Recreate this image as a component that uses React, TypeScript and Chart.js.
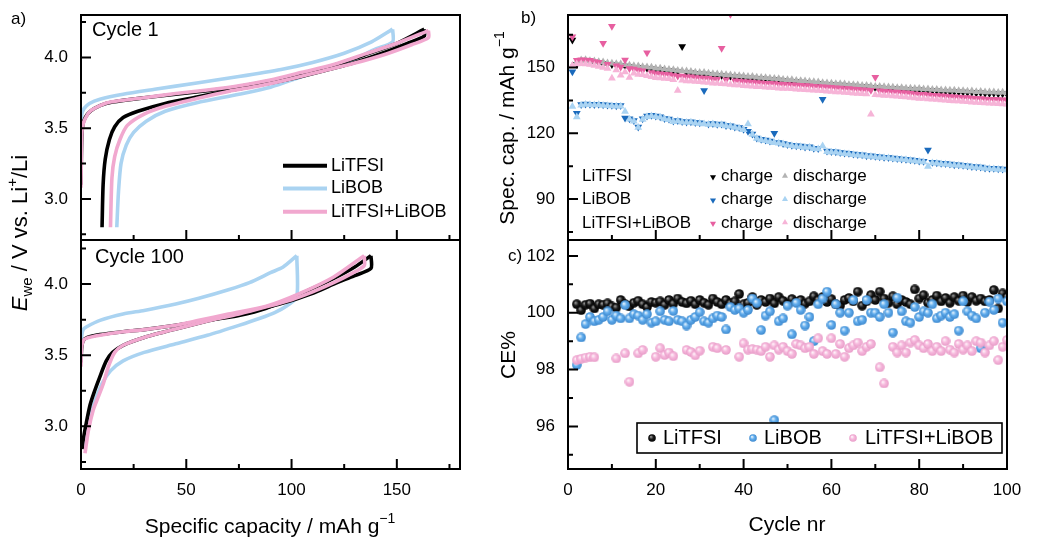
import React, { useEffect, useRef } from 'react';
import { Chart, registerables } from 'chart.js';

Chart.register(...registerables);

const W = 1040;
const H = 539;
const FONT = '"Liberation Sans", Arial, Helvetica, sans-serif';
const YW = 50;
const XH = 40;

// ---------- Panel a: voltage profiles, [specific capacity (mAh/g), E (V)] ----------
const c1LiTFSICharge = [[0, 3.1], [0.3, 3.4], [0.8, 3.52], [2, 3.575], [4.5, 3.62], [9, 3.66], [15, 3.685], [30, 3.715], [45, 3.74], [60, 3.765], [75, 3.795], [90, 3.835], [105, 3.885], [120, 3.945], [135, 4.02], [150, 4.1], [163, 4.2]];
const c1LiTFSIDischarge = [[163, 4.2], [163, 4.15], [155, 4.1], [143, 4.03], [130, 3.965], [115, 3.905], [100, 3.85], [85, 3.805], [70, 3.765], [55, 3.72], [40, 3.675], [27, 3.62], [20, 3.575], [16, 3.51], [13.5, 3.42], [11.5, 3.28], [10.5, 3.1], [10, 2.8]];
const c1LiBOBCharge = [[0, 3.54], [0.4, 3.6], [1.5, 3.64], [4, 3.675], [9, 3.705], [20, 3.74], [35, 3.775], [55, 3.82], [75, 3.865], [95, 3.915], [110, 3.965], [125, 4.03], [138, 4.11], [148, 4.2]];
const c1LiBOBDischarge = [[148, 4.2], [148, 4.11], [140, 4.06], [130, 3.99], [120, 3.935], [105, 3.865], [90, 3.79], [75, 3.74], [55, 3.68], [40, 3.62], [31, 3.55], [25, 3.47], [21.5, 3.38], [19, 3.25], [17.8, 3.05], [17, 2.8]];
const c1MixCharge = [[0, 3.08], [0.2, 3.35], [0.6, 3.5], [1.9, 3.565], [4.3, 3.62], [9, 3.66], [14, 3.685], [30, 3.715], [45, 3.745], [60, 3.77], [75, 3.8], [90, 3.84], [105, 3.895], [120, 3.95], [135, 4.025], [150, 4.1], [165, 4.19]];
const c1MixDischarge = [[165, 4.19], [165, 4.14], [157, 4.09], [145, 4.025], [130, 3.96], [115, 3.905], [100, 3.85], [85, 3.8], [70, 3.76], [55, 3.71], [40, 3.655], [30, 3.6], [22, 3.52], [18.5, 3.42], [16, 3.3], [14.7, 3.15], [14, 2.8]];

const c100LiTFSICharge = [[0, 3.45], [0.3, 3.55], [1, 3.6], [3, 3.625], [9, 3.645], [20, 3.665], [30, 3.68], [45, 3.71], [60, 3.745], [75, 3.78], [88, 3.83], [104, 3.93], [120, 4.04], [130, 4.12], [137.7, 4.2]];
const c100LiTFSIDischarge = [[137.7, 4.2], [137.7, 4.11], [130, 4.06], [120, 4.0], [110, 3.935], [100, 3.885], [88, 3.835], [75, 3.79], [60, 3.74], [45, 3.685], [30, 3.625], [20, 3.57], [15, 3.52], [12, 3.46], [9, 3.35], [6.5, 3.25], [4.3, 3.15], [2.2, 3.0], [1, 2.9], [0.5, 2.84]];
const c100LiBOBCharge = [[0, 3.55], [0.3, 3.63], [1, 3.68], [2.7, 3.7], [9, 3.745], [20, 3.79], [30, 3.815], [45, 3.86], [56, 3.9], [70, 3.96], [80, 4.01], [90, 4.08], [96, 4.12], [102.5, 4.2]];
const c100LiBOBDischarge = [[102.5, 4.2], [102.5, 3.91], [98, 3.85], [92, 3.8], [85, 3.76], [75, 3.71], [60, 3.64], [45, 3.58], [30, 3.52], [20, 3.46], [14, 3.39], [10, 3.3], [6, 3.15], [3, 3.0], [0.8, 2.85]];
const c100MixCharge = [[0, 3.42], [0.2, 3.54], [1, 3.6], [2.7, 3.62], [9, 3.64], [20, 3.665], [30, 3.68], [45, 3.71], [56, 3.745], [70, 3.79], [88, 3.845], [104, 3.935], [120, 4.05], [134.5, 4.2]];
const c100MixDischarge = [[134.5, 4.2], [134.5, 4.13], [128, 4.07], [120, 4.01], [110, 3.945], [100, 3.89], [88, 3.84], [75, 3.79], [60, 3.74], [45, 3.685], [30, 3.625], [20, 3.57], [16, 3.52], [13, 3.42], [10.6, 3.3], [8, 3.2], [5.8, 3.115], [3.5, 2.97], [1.9, 2.81]];

const capTicks = [0, 50, 100, 150];
const capMinor = [25, 75, 125, 175];
const voltTicks = [3.0, 3.5, 4.0];
const voltMinor = [2.75, 3.25, 3.75, 4.25];

// ---------- Panel b: specific capacity vs cycle (cycles 1..100) ----------
const cycleTicks = [0, 20, 40, 60, 80, 100];
const cycleMinor = [10, 30, 50, 70, 90];
const specTicks = [90, 120, 150];
const specMinor = [75, 105, 135, 165];

const liTFSICharge = [162.6, 151.5, 152.9, 153.0, 152.5, 152.4, 152.1, 151.9, 151.5, 151.4, 151.2, 151.0, 150.7, 150.5, 150.2, 150.1, 149.8, 149.7, 149.5, 149.1, 149.1, 148.8, 148.5, 148.4, 148.1, 159.6, 147.8, 147.6, 147.3, 147.2, 147.1, 146.8, 146.6, 146.5, 146.4, 146.1, 146.0, 145.8, 145.7, 145.6, 145.3, 145.3, 145.0, 144.9, 144.8, 144.5, 144.4, 144.3, 144.0, 143.9, 143.8, 143.5, 143.4, 143.3, 143.0, 142.9, 142.8, 142.5, 142.4, 142.3, 142.0, 142.0, 141.9, 141.6, 141.6, 141.4, 141.2, 141.2, 141.0, 140.8, 140.8, 140.6, 140.5, 140.4, 140.2, 140.2, 140.0, 140.0, 139.8, 139.9, 139.6, 139.6, 139.4, 139.4, 139.2, 139.2, 139.0, 139.0, 138.8, 138.8, 138.6, 138.7, 138.4, 138.5, 138.3, 138.2, 138.3, 138.0, 138.1, 137.9];
const liTFSIDischarge = [150.8, 152.6, 153.5, 153.6, 153.1, 153.0, 152.7, 152.5, 152.1, 152.0, 151.8, 151.6, 151.3, 151.1, 150.8, 150.7, 150.4, 150.3, 150.1, 149.7, 149.7, 149.4, 149.1, 149.0, 148.7, 148.6, 148.4, 148.2, 147.9, 147.8, 147.7, 147.4, 147.2, 147.1, 147.0, 146.7, 146.6, 146.4, 146.3, 146.2, 145.9, 145.9, 145.6, 145.5, 145.4, 145.1, 145.0, 144.9, 144.6, 144.5, 144.4, 144.1, 144.0, 143.9, 143.6, 143.5, 143.4, 143.1, 143.0, 142.9, 142.6, 142.6, 142.5, 142.2, 142.2, 142.0, 141.8, 141.8, 141.6, 141.4, 141.4, 141.2, 141.1, 141.0, 140.8, 140.8, 140.6, 140.6, 140.4, 140.5, 140.2, 140.2, 140.0, 140.0, 139.8, 139.8, 139.6, 139.6, 139.4, 139.4, 139.2, 139.3, 139.0, 139.1, 138.9, 138.8, 138.9, 138.6, 138.7, 138.5];
const liBOBCharge = [148.1, 129.1, 133.1, 133.4, 133.3, 133.2, 133.3, 133.0, 132.9, 132.8, 132.6, 132.7, 127.0, 126.7, 125.8, 122.9, 126.6, 127.9, 128.2, 127.9, 127.6, 126.8, 126.5, 125.6, 125.9, 125.4, 125.2, 125.3, 124.9, 124.8, 139.5, 124.3, 124.5, 124.1, 124.2, 123.6, 123.5, 122.9, 122.6, 121.9, 120.9, 119.7, 117.9, 117.3, 116.9, 116.5, 120.0, 115.8, 115.4, 114.9, 114.6, 114.3, 114.2, 113.8, 113.9, 113.2, 113.1, 135.5, 111.9, 111.7, 111.6, 111.2, 111.0, 110.9, 110.5, 110.3, 110.2, 109.8, 109.7, 109.5, 109.3, 109.1, 109.0, 108.7, 108.5, 108.3, 108.2, 107.9, 107.7, 107.4, 107.2, 112.4, 106.8, 106.6, 106.3, 106.2, 106.0, 105.7, 105.6, 105.4, 105.2, 104.9, 104.7, 104.6, 104.2, 104.1, 104.0, 103.8, 103.7, 103.5];
const liBOBDischarge = [132.2, 127.4, 132.8, 133.1, 133.0, 132.9, 133.0, 132.7, 132.6, 132.5, 132.3, 132.4, 129.9, 126.4, 125.5, 122.6, 126.3, 127.6, 127.9, 127.6, 127.3, 126.5, 126.2, 125.3, 125.6, 125.1, 124.9, 125.0, 124.6, 124.5, 124.3, 124.0, 124.2, 123.8, 123.9, 123.3, 123.2, 122.6, 122.3, 121.6, 124.3, 119.4, 117.6, 117.0, 116.6, 116.2, 115.7, 115.5, 115.1, 114.6, 114.3, 114.0, 113.9, 113.5, 113.6, 112.9, 112.8, 114.2, 111.6, 111.4, 111.3, 110.9, 110.7, 110.6, 110.2, 110.0, 109.9, 109.5, 109.4, 109.2, 109.0, 108.8, 108.7, 108.4, 108.2, 108.0, 107.9, 107.6, 107.4, 107.1, 106.9, 104.8, 106.5, 106.3, 106.0, 105.9, 105.7, 105.4, 105.3, 105.1, 104.9, 104.6, 104.4, 104.3, 103.9, 103.8, 103.7, 103.5, 103.4, 103.2];
const mixCharge = [164.1, 153.4, 153.6, 153.5, 153.3, 152.8, 152.4, 161.1, 151.5, 168.9, 150.8, 150.3, 153.5, 149.6, 149.3, 148.9, 148.6, 156.8, 147.7, 147.3, 147.2, 146.9, 146.8, 146.4, 146.2, 146.1, 145.8, 145.8, 145.5, 145.4, 145.2, 145.1, 144.8, 144.7, 158.8, 144.4, 174.3, 144.0, 143.9, 143.6, 143.5, 143.4, 143.2, 143.1, 142.9, 142.8, 142.7, 142.5, 142.4, 142.3, 142.2, 142.0, 141.9, 141.8, 141.7, 141.5, 141.4, 141.3, 141.1, 141.0, 140.8, 140.7, 140.5, 140.4, 140.2, 140.1, 139.9, 139.8, 139.6, 145.6, 139.4, 139.2, 139.1, 138.9, 138.8, 138.6, 138.5, 138.3, 138.0, 137.8, 137.8, 137.6, 137.4, 137.3, 137.1, 137.0, 136.8, 136.7, 136.6, 136.4, 136.3, 136.1, 136.0, 135.9, 135.7, 135.6, 135.5, 135.4, 135.3, 135.2];
const mixDischarge = [151.0, 151.6, 151.7, 151.6, 151.4, 150.9, 150.5, 150.0, 149.6, 145.1, 148.9, 146.5, 148.0, 145.5, 147.4, 146.8, 146.7, 146.3, 145.8, 145.4, 145.3, 145.0, 144.9, 144.5, 139.5, 144.2, 143.9, 143.9, 143.6, 143.5, 143.3, 143.2, 142.9, 142.8, 142.6, 142.5, 142.3, 142.1, 142.0, 141.7, 141.6, 141.5, 141.3, 141.2, 141.0, 140.9, 140.8, 140.6, 140.5, 140.4, 140.3, 140.1, 140.0, 139.9, 139.8, 139.6, 139.5, 139.4, 139.2, 139.1, 138.9, 138.8, 138.6, 138.5, 138.3, 138.2, 138.0, 137.9, 128.7, 137.6, 137.5, 137.3, 137.2, 137.0, 136.9, 136.7, 136.6, 136.4, 136.1, 135.9, 135.9, 135.7, 135.5, 135.4, 135.2, 135.1, 134.9, 134.8, 134.7, 134.5, 134.4, 134.2, 134.1, 134.0, 133.8, 133.7, 133.6, 133.5, 133.4, 133.3];

// ---------- Panel c: coulombic efficiency (cycles 2..100) ----------
const ceTicks = [96, 98, 100, 102];
const ceMinor = [95, 97, 99, 101];
const ceFirstCycle = 2;
const ceLiTFSI = [100.3, 100.09, 100.28, 100.32, 100.15, 100.3, 100.28, 100.33, 100.22, 100.18,
  100.45, 100.3, 100.22, 100.35, 100.42, 100.3, 100.2, 100.38, 100.35, 100.4,
  100.28, 100.45, 100.32, 100.5, 100.38, 100.33, 100.42, 100.3, 100.45, 100.35,
  100.28, 100.5, 100.38, 100.3, 100.45, 100.33, 100.4, 100.66, 100.3, 100.35,
  100.55, 100.28, 100.45, 100.38, 100.5, 100.33, 100.55, 100.42, 100.3, 100.48,
  100.38, 100.45, 100.32, 100.4, 100.58, 100.45, 100.55, 100.38, 100.48, 100.3,
  100.25, 100.45, 100.52, 100.4, 100.74, 100.25, 100.4, 100.62, 100.45, 100.74,
  100.5, 100.35, 100.58, 100.3, 100.45, 100.38, 100.3, 100.82, 100.5, 100.62,
  100.35, 100.45, 100.6, 100.4, 100.52, 100.35, 100.55, 100.42, 100.6, 100.38,
  100.55, 100.42, 100.5, 100.4, 100.45, 100.8, 100.15, 100.68, 100.55];
const ceLiBOB = [98.16, 99.13, 99.6, 99.85, 99.7, 99.75, 99.85, 100.05, 99.75, 99.9,
  99.8, 100.27, 99.8, 99.95, 99.9, 99.75, 99.95, 99.65, 99.7, 100.05,
  99.75, 99.7, 100.06, 99.75, 99.7, 99.55, 99.75, 99.85, 100.02, 99.7,
  99.65, 99.8, 99.9, 99.85, 99.41, 100.2, 100.1, 100.15, 100.0, 100.1,
  100.5, 100.35, 99.39, 99.9, 100.05, 96.22, 99.7, 99.8, 100.25, 99.24,
  100.35, 100.1, 99.55, 99.85, 99.0, 100.3, 100.5, 100.74, 99.57, 100.3,
  100.0, 99.37, 100.0, 100.45, 99.7, 99.75, 100.45, 100.0, 100.0, 99.85,
  100.3, 100.0, 99.3, 100.53, 100.05, 99.7, 99.65, 100.2, 99.85, 100.05,
  100.0, 100.3, 99.8, 99.9, 100.0, 99.85, 99.95, 99.37, 100.4, 100.05,
  99.9, 99.8, 98.75, 100.0, 100.39, 100.1, 100.5, 99.65, 100.4];
const ceMix = [98.33, 98.38, 98.42, 98.45, 98.43, null, null, null, null, 98.39,
  null, 98.57, 97.57, null, 98.57, 98.69, null, null, 98.45, 98.75,
  98.51, 98.6, 98.47, null, null, 98.69, 98.62, 98.5, 98.66, null,
  null, 98.8, 98.75, null, 98.69, null, null, 98.45, 98.92, 98.7,
  98.72, 98.7, 98.65, 98.8, 98.45, 98.85, 98.7, 98.8, 98.65, 98.55,
  98.9, 98.85, 98.75, 98.8, 98.55, 99.1, 98.65, 98.55, 99.1, 98.55,
  98.9, 98.45, 98.75, 98.85, 98.95, 98.65, 98.8, 98.9, null, 98.08,
  97.51, null, 98.8, 98.6, 98.85, 98.6, 98.95, 99.04, 98.85, 98.75,
  98.9, 98.65, 98.8, 98.65, 99.0, 98.7, 98.6, 98.9, 98.7, 98.85,
  98.65, 99.0, 98.95, 98.6, 98.85, 99.0, 98.33, 98.8, 99.04];

// ---------- colours ----------
const BLACK = '#000000';
const LIBOB_LINE = '#aad3f1';
const MIX_LINE = '#f1a8cf';
const GREY_TRI = '#b3b3b3';
const BLUE_TRI = '#1a6abc';
const LBLUE_TRI = '#a9d3f2';
const PINK_TRI = '#e75fa0';
const LPINK_TRI = '#f6b4d7';

type Seg = { t: string; italic?: boolean; sub?: boolean; sup?: boolean };

function drawRich(ctx: any, segs: Seg[], x: number, y: number, size: number, rot = 0, align = 'center') {
  ctx.save();
  ctx.translate(x, y);
  ctx.rotate(rot);
  const fontFor = (s: Seg) => `${s.italic ? 'italic ' : ''}${s.sub || s.sup ? Math.round(size * 0.68) : size}px ${FONT}`;
  let total = 0;
  segs.forEach((s) => { ctx.font = fontFor(s); total += ctx.measureText(s.t).width; });
  let cx = align === 'center' ? -total / 2 : 0;
  ctx.textBaseline = 'middle';
  ctx.textAlign = 'left';
  ctx.fillStyle = '#000';
  segs.forEach((s) => {
    ctx.font = fontFor(s);
    const dy = s.sub ? size * 0.3 : s.sup ? -size * 0.38 : 0;
    ctx.fillText(s.t, cx, dy);
    cx += ctx.measureText(s.t).width;
  });
  ctx.restore();
}

function text(ctx: any, t: string, x: number, y: number, size: number, align = 'left') {
  drawRich(ctx, [{ t }], x, y, size, 0, align);
}

function tri(ctx: any, x: number, y: number, r: number, down: boolean, color: string) {
  ctx.save();
  ctx.fillStyle = color;
  ctx.beginPath();
  const s = down ? -1 : 1;
  ctx.moveTo(x, y - s * r);
  ctx.lineTo(x + r * 0.866, y + s * r * 0.5);
  ctx.lineTo(x - r * 0.866, y + s * r * 0.5);
  ctx.closePath();
  ctx.fill();
  ctx.restore();
}

function sphere(light: string, base: string, dark: string, d: number) {
  const c = document.createElement('canvas');
  c.width = d;
  c.height = d;
  const g = c.getContext('2d') as CanvasRenderingContext2D;
  const r = d / 2;
  const grad = g.createRadialGradient(r * 0.72, r * 0.68, 0.3, r, r, r);
  grad.addColorStop(0, light);
  grad.addColorStop(0.45, base);
  grad.addColorStop(1, dark);
  g.fillStyle = grad;
  g.beginPath();
  g.arc(r, r, r - 0.2, 0, Math.PI * 2);
  g.fill();
  return c;
}

function axis(kind: string, min: number, max: number, ticks: number[], fmt: (v: number) => string, show: boolean) {
  return {
    type: 'linear',
    min,
    max,
    position: kind === 'x' ? 'bottom' : 'left',
    grid: { display: false, drawTicks: false },
    border: { display: false },
    ticks: {
      display: show,
      color: '#000',
      font: { family: FONT, size: 17 },
      padding: kind === 'x' ? 11 : 13,
      maxRotation: 0,
      autoSkip: false,
      callback: (v: number) => fmt(v),
    },
    afterBuildTicks: (s: any) => { s.ticks = ticks.map((v) => ({ value: v })); },
    afterFit: (s: any) => {
      if (kind === 'x') { s.height = XH; s.paddingLeft = 0; s.paddingRight = 0; }
      else { s.width = YW; s.paddingTop = 0; s.paddingBottom = 0; }
    },
  };
}

function framePlugin(xMinor: number[], yMinor: number[], extra: (ctx: any, chart: any) => void) {
  return {
    id: 'frameTicks',
    afterDatasetsDraw(chart: any) {
      const { ctx, chartArea: a, scales } = chart;
      const xs = scales.x;
      const ys = scales.y;
      ctx.save();
      ctx.strokeStyle = '#000';
      ctx.lineWidth = 2;
      ctx.beginPath();
      xs.ticks.forEach((t: any) => { const p = xs.getPixelForValue(t.value); ctx.moveTo(p, a.bottom); ctx.lineTo(p, a.bottom - 10); });
      xMinor.forEach((v) => { const p = xs.getPixelForValue(v); ctx.moveTo(p, a.bottom); ctx.lineTo(p, a.bottom - 5); });
      ys.ticks.forEach((t: any) => { const p = ys.getPixelForValue(t.value); ctx.moveTo(a.left, p); ctx.lineTo(a.left + 10, p); });
      yMinor.forEach((v) => { const p = ys.getPixelForValue(v); ctx.moveTo(a.left, p); ctx.lineTo(a.left + 5, p); });
      ctx.stroke();
      ctx.strokeRect(a.left, a.top, a.right - a.left, a.bottom - a.top);
      ctx.restore();
      extra(ctx, chart);
    },
  };
}

type Area = { l: number; t: number; r: number; b: number };

function build(canvas: HTMLCanvasElement, datasets: any[], x: any, y: any, area: Area, plugin: any) {
  return new Chart(canvas, {
    type: 'scatter',
    data: { datasets },
    options: {
      responsive: false,
      animation: false,
      devicePixelRatio: 1,
      events: [],
      layout: { padding: { left: area.l - YW, top: area.t, right: W - area.r, bottom: H - area.b - XH } },
      scales: { x, y },
      plugins: { legend: { display: false }, tooltip: { enabled: false } },
    } as any,
    plugins: [plugin],
  } as any);
}

const toXY = (arr: number[][]) => arr.map(([x, y]) => ({ x, y }));
const byCycle = (arr: (number | null)[], first: number) => arr.map((v, i) => ({ x: i + first, y: v }));

function line(arr: number[][], color: string, order: number) {
  return { data: toXY(arr), showLine: true, borderColor: color, borderWidth: 3.6, pointRadius: 0, tension: 0.25, fill: false, order };
}

function tris(arr: number[], color: string, down: boolean, order: number) {
  return {
    data: byCycle(arr, 1), showLine: false, pointStyle: 'triangle', pointRotation: down ? 180 : 0,
    pointRadius: 4.5, pointBackgroundColor: color, pointBorderWidth: 0, borderWidth: 0, order,
  };
}

const fmt1 = (v: number) => v.toFixed(1);
const fmt0 = (v: number) => String(Math.round(v));

export default function App() {
  const r1 = useRef<HTMLCanvasElement>(null);
  const r2 = useRef<HTMLCanvasElement>(null);
  const r3 = useRef<HTMLCanvasElement>(null);
  const r4 = useRef<HTMLCanvasElement>(null);

  useEffect(() => {
    const blackSphere = sphere('#9a9a9a', '#1a1a1a', '#000000', 10);
    const blueSphere = sphere('#e6f3fd', '#62aded', '#3a86cc', 10);
    const pinkSphere = sphere('#fff4fa', '#f6b8dc', '#e79bc7', 10);
    const blackSm = sphere('#9a9a9a', '#1a1a1a', '#000000', 8);
    const blueSm = sphere('#e6f3fd', '#62aded', '#3a86cc', 8);
    const pinkSm = sphere('#fff4fa', '#f6b8dc', '#e79bc7', 8);

    const topLeft = build(
      r1.current as HTMLCanvasElement,
      [line(c1LiBOBCharge, LIBOB_LINE, 3), line(c1LiBOBDischarge, LIBOB_LINE, 3),
        line(c1LiTFSICharge, BLACK, 2), line(c1LiTFSIDischarge, BLACK, 2),
        line(c1MixCharge, MIX_LINE, 1), line(c1MixDischarge, MIX_LINE, 1)],
      axis('x', 0, 180, capTicks, fmt0, false),
      axis('y', 2.71, 4.3, voltTicks, fmt1, true),
      { l: 81, t: 15, r: 460, b: 240 },
      framePlugin(capMinor, voltMinor, (ctx) => {
        text(ctx, 'a)', 11, 19, 17);
        text(ctx, 'Cycle 1', 92, 30, 20);
        drawRich(ctx, [{ t: 'E', italic: true }, { t: 'we', sub: true }, { t: ' / V vs. Li' }, { t: '+', sup: true }, { t: '/Li' }], 21, 233, 22, -Math.PI / 2);
        const rows: [string, string, number][] = [['LiTFSI', BLACK, 165.7], ['LiBOB', LIBOB_LINE, 188.5], ['LiTFSI+LiBOB', MIX_LINE, 211.7]];
        rows.forEach(([label, col, yy]) => {
          ctx.save();
          ctx.strokeStyle = col;
          ctx.lineWidth = 4;
          ctx.beginPath();
          ctx.moveTo(283, yy);
          ctx.lineTo(327, yy);
          ctx.stroke();
          ctx.restore();
          text(ctx, label, 331, yy, 18);
        });
      }),
    );

    const botLeft = build(
      r2.current as HTMLCanvasElement,
      [line(c100LiBOBCharge, LIBOB_LINE, 3), line(c100LiBOBDischarge, LIBOB_LINE, 3),
        line(c100LiTFSICharge, BLACK, 2), line(c100LiTFSIDischarge, BLACK, 2),
        line(c100MixCharge, MIX_LINE, 1), line(c100MixDischarge, MIX_LINE, 1)],
      axis('x', 0, 180, capTicks, fmt0, true),
      axis('y', 2.7, 4.31, voltTicks, fmt1, true),
      { l: 81, t: 240, r: 460, b: 469 },
      framePlugin(capMinor, voltMinor, (ctx) => {
        text(ctx, 'Cycle 100', 95, 257, 20);
        drawRich(ctx, [{ t: 'Specific capacity / mAh g' }, { t: '\u22121', sup: true }], 270, 527, 21);
      }),
    );

    const topRight = build(
      r3.current as HTMLCanvasElement,
      [tris(liTFSICharge, BLACK, true, 6), tris(liTFSIDischarge, GREY_TRI, false, 5),
        tris(liBOBCharge, BLUE_TRI, true, 4), tris(liBOBDischarge, LBLUE_TRI, false, 3),
        tris(mixCharge, PINK_TRI, true, 2), tris(mixDischarge, LPINK_TRI, false, 1)],
      axis('x', 0, 100, cycleTicks, fmt0, false),
      axis('y', 71.3, 174, specTicks, fmt0, true),
      { l: 568, t: 15, r: 1007, b: 240 },
      framePlugin(cycleMinor, specMinor, (ctx) => {
        text(ctx, 'b)', 521, 18, 17);
        drawRich(ctx, [{ t: 'Spec. cap. / mAh g' }, { t: '\u22121', sup: true }], 508, 128, 21, -Math.PI / 2);
        const rows: [string, string, string, number][] = [
          ['LiTFSI', BLACK, GREY_TRI, 176.5], ['LiBOB', BLUE_TRI, LBLUE_TRI, 199.8], ['LiTFSI+LiBOB', PINK_TRI, LPINK_TRI, 223]];
        rows.forEach(([label, cc, dc, yy]) => {
          text(ctx, label, 582, yy, 17);
          tri(ctx, 713, yy + 0.5, 3.5, true, cc);
          text(ctx, 'charge', 721, yy, 17);
          tri(ctx, 785, yy - 0.5, 3.5, false, dc);
          text(ctx, 'discharge', 793, yy, 17);
        });
      }),
    );

    const botRight = build(
      r4.current as HTMLCanvasElement,
      [
        { data: byCycle(ceLiTFSI, ceFirstCycle), showLine: false, pointStyle: blackSphere, pointRadius: 5, order: 3 },
        { data: byCycle(ceLiBOB, ceFirstCycle), showLine: false, pointStyle: blueSphere, pointRadius: 5, order: 2 },
        { data: byCycle(ceMix, ceFirstCycle), showLine: false, pointStyle: pinkSphere, pointRadius: 5, order: 1 },
      ],
      axis('x', 0, 100, cycleTicks, fmt0, true),
      axis('y', 94.5, 102.56, ceTicks, fmt0, true),
      { l: 568, t: 240, r: 1007, b: 469 },
      framePlugin(cycleMinor, ceMinor, (ctx) => {
        text(ctx, 'c)', 508, 256, 17);
        drawRich(ctx, [{ t: 'CE%' }], 509, 355, 21, -Math.PI / 2);
        text(ctx, 'Cycle nr', 787, 525, 21, 'center');
        ctx.save();
        ctx.fillStyle = '#fff';
        ctx.fillRect(637, 423, 365, 30);
        ctx.strokeStyle = '#000';
        ctx.lineWidth = 1.6;
        ctx.strokeRect(637, 423, 365, 30);
        ctx.drawImage(blackSm, 648, 434);
        ctx.drawImage(blueSm, 749, 434);
        ctx.drawImage(pinkSm, 849, 434);
        ctx.restore();
        text(ctx, 'LiTFSI', 663, 438.5, 20);
        text(ctx, 'LiBOB', 764, 438.5, 20);
        text(ctx, 'LiTFSI+LiBOB', 865, 438.5, 20);
      }),
    );

    return () => {
      topLeft.destroy();
      botLeft.destroy();
      topRight.destroy();
      botRight.destroy();
    };
  }, []);

  const cs: React.CSSProperties = { position: 'absolute', left: 0, top: 0, width: W, height: H };
  return (
    <div style={{ position: 'absolute', left: 0, top: 0, width: W, height: H, background: '#fff', overflow: 'hidden' }}>
      <canvas ref={r1} width={W} height={H} style={cs} />
      <canvas ref={r2} width={W} height={H} style={cs} />
      <canvas ref={r3} width={W} height={H} style={cs} />
      <canvas ref={r4} width={W} height={H} style={cs} />
    </div>
  );
}
